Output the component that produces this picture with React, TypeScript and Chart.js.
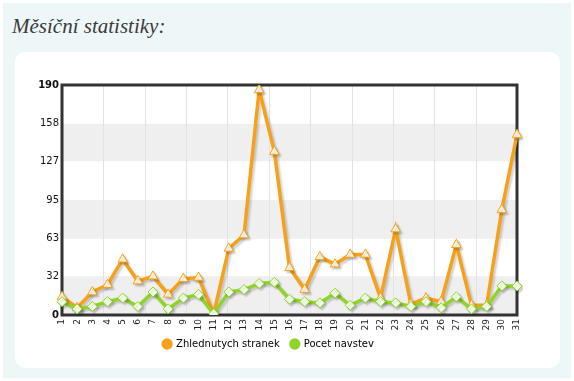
import React, { useEffect, useRef } from "react";
import { Chart, registerables } from "chart.js";

Chart.register(...registerables);

const days = Array.from({ length: 31 }, (_, i) => String(i + 1));
const pageViews = [15, 6, 19, 25, 46, 28, 32, 17, 30, 31, 1, 55, 66, 186, 135, 39, 21, 48, 42, 50, 50, 14, 71, 9, 14, 11, 58, 8, 8, 87, 149];
const visits = [11, 5, 7, 11, 14, 7, 19, 5, 14, 17, 1, 19, 21, 26, 27, 13, 11, 10, 18, 8, 14, 11, 10, 7, 11, 6, 15, 5, 7, 24, 24];
const yTicks = [0, 32, 63, 95, 127, 158, 190];
const seriesNames = ["Zhlednutych stranek", "Pocet navstev"];

const ORANGE = "#f7a11a";
const GREEN = "#8fd42a";

const framePlugin = {
  id: "frame",
  afterLayout(chart: any) {
    if (chart.legend) {
      chart.legend.top -= 7;
      chart.legend.bottom -= 7;
    }
  },
  beforeDatasetsDraw(chart: any) {
    const { ctx, chartArea: a, scales } = chart;
    const y = scales.y;
    ctx.save();
    ctx.fillStyle = "#efefef";
    for (let i = 0; i < yTicks.length - 1; i += 2) {
      const y0 = y.getPixelForValue(yTicks[i]);
      const y1 = y.getPixelForValue(yTicks[i + 1]);
      ctx.fillRect(a.left, y1, a.right - a.left, y0 - y1);
    }
    const g = scales.xg;
    ctx.strokeStyle = "#e3e3e3";
    ctx.lineWidth = 1;
    for (let k = 1; k < 11; k++) {
      const px = Math.round(g.getPixelForValue(k)) + 0.5;
      ctx.beginPath();
      ctx.moveTo(px, a.top);
      ctx.lineTo(px, a.bottom);
      ctx.stroke();
    }
    ctx.strokeStyle = "#333333";
    ctx.lineWidth = 3;
    ctx.strokeRect(a.left, a.top, a.right - a.left, a.bottom - a.top);
    ctx.restore();
  },
  beforeDatasetDraw(chart: any) {
    const ctx = chart.ctx;
    ctx.save();
    ctx.shadowColor = "rgba(0,0,0,0.18)";
    ctx.shadowOffsetX = 2;
    ctx.shadowOffsetY = 2;
    ctx.shadowBlur = 2;
  },
  afterDatasetDraw(chart: any) {
    chart.ctx.restore();
  },
};

export default function App() {
  const ref = useRef<HTMLCanvasElement>(null);
  useEffect(() => {
    const chart = new Chart(ref.current!, {
      type: "line",
      data: {
        labels: days,
        datasets: [
          {
            label: seriesNames[0],
            data: pageViews,
            order: 1,
            borderColor: ORANGE,
            backgroundColor: "#fff6e2",
            borderWidth: 3.5,
            pointStyle: "triangle",
            pointRadius: 5.5,
            pointBorderWidth: 1,
            pointBorderColor: ORANGE,
            pointBackgroundColor: "#fff6e2",
            tension: 0,
            xAxisID: "x",
          },
          {
            label: seriesNames[1],
            data: visits,
            order: 0,
            borderColor: GREEN,
            backgroundColor: "#f4ffe8",
            borderWidth: 3.5,
            pointStyle: "rectRot",
            pointRadius: 5,
            pointBorderWidth: 1,
            pointBorderColor: GREEN,
            pointBackgroundColor: "#f4ffe8",
            tension: 0,
            xAxisID: "x",
          },
        ],
      },
      plugins: [framePlugin],
      options: {
        animation: false,
        responsive: false,
        maintainAspectRatio: false,
        layout: { padding: { left: 20, right: 57, top: 85, bottom: 15 } },
        scales: {
          x: {
            type: "category",
            offset: false,
            grid: { display: false, drawTicks: false },
            border: { display: false },
            ticks: {
              minRotation: 90,
              maxRotation: 90,
              autoSkip: false,
              padding: 4,
              color: "#222",
              font: { family: "DejaVu Sans", size: 9 },
            },
            afterFit(s: any) {
              s.height = 20;
            },
          },
          xg: {
            type: "linear",
            position: "top",
            min: 0,
            max: 11,
            display: true,
            grid: { display: false, drawTicks: false },
            border: { display: false },
            ticks: { display: false },
            afterFit(s: any) {
              s.height = 0;
            },
          },
          y: {
            min: 0,
            max: 190,
            afterBuildTicks(s: any) {
              s.ticks = yTicks.map((v) => ({ value: v }));
            },
            grid: { display: false, drawTicks: false },
            border: { display: false },
            ticks: {
              padding: 3,
              color: "#111",
              font: (c: any) => ({
                family: "DejaVu Sans",
                size: 10,
                weight: c.index === 0 || c.index === yTicks.length - 1 ? "bold" : "normal",
              }),
            },
            afterFit(s: any) {
              s.width = 42;
            },
          },
        },
        plugins: {
          title: { display: false },
          tooltip: { enabled: false },
          legend: {
            position: "bottom",
            labels: {
              padding: 11,
              boxWidth: 8,
              boxHeight: 8,
              usePointStyle: true,
              color: "#111",
              font: { family: "DejaVu Sans", size: 10 },
              generateLabels: () =>
                seriesNames.map((n, i) => ({
                  text: n,
                  fillStyle: i === 0 ? ORANGE : GREEN,
                  strokeStyle: i === 0 ? ORANGE : GREEN,
                  lineWidth: 0,
                  pointStyle: "circle",
                  datasetIndex: i,
                  hidden: false,
                })),
            },
          },
        },
      },
    });
    return () => chart.destroy();
  }, []);

  return (
    <div style={{ position: "fixed", left: 0, top: 0, width: 574, height: 381, background: "#ffffff" }}>
      <div style={{ position: "absolute", left: 3, top: 3, width: 568, height: 375, background: "#eef7f8" }} />
      <div
        style={{
          position: "absolute",
          left: 12,
          top: 14,
          fontFamily: "'Liberation Serif', serif",
          fontStyle: "italic",
          fontSize: 21,
          color: "#3a3a3a",
          whiteSpace: "nowrap",
        }}
      >
        Měsíční statistiky:
      </div>
      <div
        style={{
          position: "absolute",
          left: 15,
          top: 52,
          width: 545,
          height: 316,
          background: "#ffffff",
          borderRadius: 10,
        }}
      />
      <canvas ref={ref} width={574} height={381} style={{ position: "absolute", left: 0, top: 0 }} />
    </div>
  );
}
